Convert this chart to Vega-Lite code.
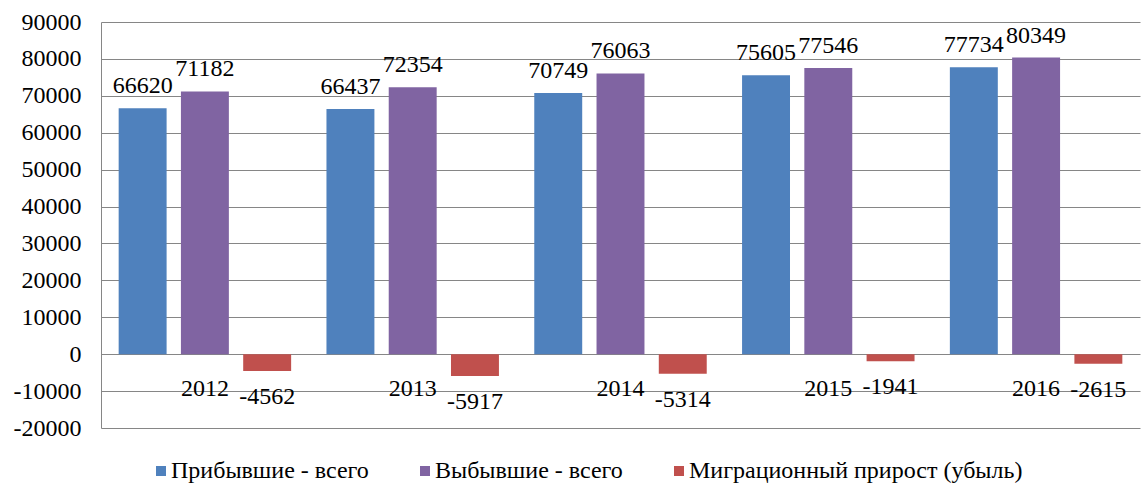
{
  "$schema": "https://vega.github.io/schema/vega-lite/v6.json",
  "width": 1039,
  "height": 406,
  "autosize": {"type": "none"},
  "padding": {"left": 101, "top": 22, "right": 2, "bottom": 59},
  "config": {
    "view": {"stroke": null},
    "font": "Liberation Serif",
    "text": {"font": "Liberation Serif", "fontSize": 24, "color": "#000000"}
  },
  "data": {
    "values": [
      {"year": "2012", "series": "Прибывшие - всего", "value": 66620},
      {"year": "2012", "series": "Выбывшие - всего", "value": 71182},
      {"year": "2012", "series": "Миграционный прирост (убыль)", "value": -4562},
      {"year": "2013", "series": "Прибывшие - всего", "value": 66437},
      {"year": "2013", "series": "Выбывшие - всего", "value": 72354},
      {"year": "2013", "series": "Миграционный прирост (убыль)", "value": -5917},
      {"year": "2014", "series": "Прибывшие - всего", "value": 70749},
      {"year": "2014", "series": "Выбывшие - всего", "value": 76063},
      {"year": "2014", "series": "Миграционный прирост (убыль)", "value": -5314},
      {"year": "2015", "series": "Прибывшие - всего", "value": 75605},
      {"year": "2015", "series": "Выбывшие - всего", "value": 77546},
      {"year": "2015", "series": "Миграционный прирост (убыль)", "value": -1941},
      {"year": "2016", "series": "Прибывшие - всего", "value": 77734},
      {"year": "2016", "series": "Выбывшие - всего", "value": 80349},
      {"year": "2016", "series": "Миграционный прирост (убыль)", "value": -2615}
    ]
  },
  "encoding": {
    "x": {
      "field": "year",
      "type": "nominal",
      "axis": null,
      "scale": {"paddingInner": 0.17, "paddingOuter": 0.085}
    },
    "y": {
      "field": "value",
      "type": "quantitative",
      "scale": {"domain": [-20000, 90000], "nice": false, "zero": false},
      "axis": {
        "title": null,
        "values": [-20000, -10000, 0, 10000, 20000, 30000, 40000, 50000, 60000, 70000, 80000, 90000],
        "labelExpr": "'' + datum.value",
        "labelFont": "Liberation Serif",
        "labelFontSize": 24,
        "labelColor": "#000000",
        "labelPadding": 20,
        "ticks": false,
        "domainColor": "#868686",
        "gridColor": "#868686",
        "gridWidth": 1,
        "gridOpacity": 1
      }
    }
  },
  "layer": [
    {
      "mark": {"type": "bar"},
      "encoding": {
        "xOffset": {
          "field": "series",
          "type": "nominal",
          "sort": ["Прибывшие - всего", "Выбывшие - всего", "Миграционный прирост (убыль)"],
          "scale": {"paddingInner": 0.23, "paddingOuter": 0}
        },
        "color": {
          "field": "series",
          "type": "nominal",
          "sort": ["Прибывшие - всего", "Выбывшие - всего", "Миграционный прирост (убыль)"],
          "scale": {
            "domain": ["Прибывшие - всего", "Выбывшие - всего", "Миграционный прирост (убыль)"],
            "range": ["#4F81BD", "#8064A2", "#C0504D"]
          },
          "legend": {
            "title": null,
            "orient": "none",
            "legendX": 48,
            "legendY": 437,
            "direction": "horizontal",
            "symbolType": "square",
            "symbolSize": 100,
            "symbolStrokeWidth": 0,
            "labelFont": "Liberation Serif",
            "labelFontSize": 24,
            "labelColor": "#000000",
            "labelOffset": -2,
            "columnPadding": 44,
            "labelLimit": 500
          }
        }
      }
    },
    {
      "transform": [{"filter": "datum.value >= 0"}],
      "mark": {"type": "text", "baseline": "alphabetic", "dy": -15},
      "encoding": {
        "xOffset": {
          "field": "series",
          "type": "nominal",
          "sort": ["Прибывшие - всего", "Выбывшие - всего", "Миграционный прирост (убыль)"],
          "scale": {"paddingInner": 0.23, "paddingOuter": 0}
        },
        "text": {"field": "value", "type": "nominal"}
      }
    },
    {
      "transform": [{"filter": "datum.value < 0"}],
      "mark": {"type": "text", "baseline": "top", "dy": 14},
      "encoding": {
        "xOffset": {
          "field": "series",
          "type": "nominal",
          "sort": ["Прибывшие - всего", "Выбывшие - всего", "Миграционный прирост (убыль)"],
          "scale": {"paddingInner": 0.23, "paddingOuter": 0}
        },
        "text": {"field": "value", "type": "nominal"}
      }
    },
    {
      "transform": [{"filter": "datum.series === 'Прибывшие - всего'"}],
      "mark": {"type": "text", "baseline": "middle", "dy": 35},
      "encoding": {
        "y": {"datum": 0},
        "text": {"field": "year", "type": "nominal"}
      }
    }
  ]
}
